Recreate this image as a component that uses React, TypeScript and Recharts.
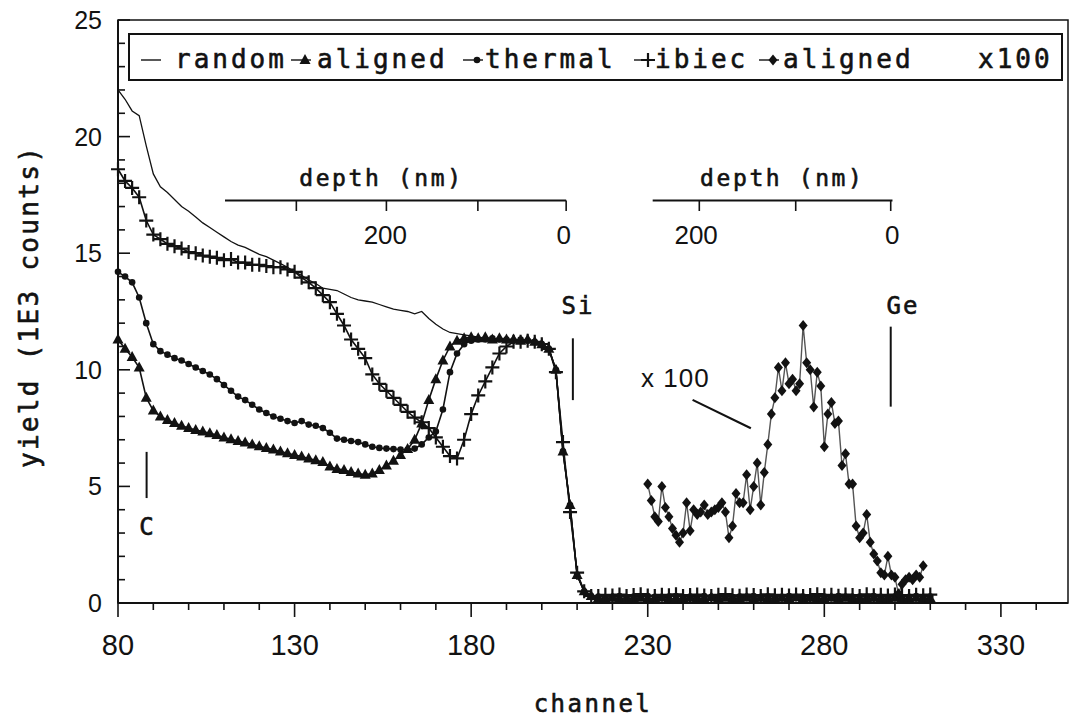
import {
  ComposedChart, Line, XAxis, YAxis, Legend,
  ReferenceLine, ReferenceDot, ReferenceArea,
} from "recharts";

// RBS spectra. Yield in 1E3 counts, x = channel.
const CHANNELS = [
  80, 82, 84, 86, 88, 90, 92, 94, 96, 98,
  100, 102, 104, 106, 108, 110, 112, 114, 116, 118,
  120, 122, 124, 126, 128, 130, 132, 134, 136, 138,
  140, 142, 144, 146, 148, 150, 152, 154, 156, 158,
  160, 162, 164, 166, 168, 170, 172, 174, 176, 178,
  180, 182, 184, 186, 188, 190, 192, 194, 196, 198,
  200, 202, 204, 206, 208, 210, 212, 214, 216, 218,
  220, 222, 224, 226, 228, 230, 232, 234, 236, 238,
  240, 242, 244, 246, 248, 250, 252, 254, 256, 258,
  260, 262, 264, 266, 268, 270, 272, 274, 276, 278,
  280, 282, 284, 286, 288, 290, 292, 294, 296, 298,
  300, 302, 304, 306, 308, 310,
];

const RANDOM = [
  22.0, 21.6, 21.1, 20.9, 19.6, 18.4, 17.85, 17.6, 17.3, 17.0,
  16.8, 16.55, 16.3, 16.1, 15.9, 15.7, 15.5, 15.35, 15.25, 15.1,
  14.95, 14.85, 14.7, 14.55, 14.4, 14.2, 14.05, 13.85, 13.7, 13.5,
  13.45, 13.4, 13.25, 13.1, 13.0, 12.95, 12.9, 12.8, 12.7, 12.6,
  12.55, 12.5, 12.4, 12.5, 12.2, 11.95, 11.75, 11.6, 11.55, 11.5,
  11.45, 11.4, 11.35, 11.35, 11.3, 11.3, 11.3, 11.25, 11.25, 11.2,
  11.1, 10.9, 10.0, 6.5, 4.2, 1.2, 0.5, 0.3, 0.28, 0.3,
  0.3, 0.28, 0.3, 0.3, 0.27, 0.3, 0.29, 0.3, 0.28, 0.3,
  0.3, 0.29, 0.3, 0.28, 0.3, 0.3, 0.27, 0.3, 0.3, 0.29,
  0.3, 0.28, 0.3, 0.3, 0.29, 0.3, 0.28, 0.3, 0.3, 0.3,
  0.29, 0.3, 0.3, 0.28, 0.3, 0.3, 0.29, 0.3, 0.28, 0.3,
  0.3, 0.29, 0.3, 0.3, 0.28, 0.3,
];

const ALIGNED = [
  11.3, 10.9, 10.55, 10.1, 8.8, 8.25, 8.0, 7.85, 7.72, 7.6,
  7.5, 7.42, 7.35, 7.28, 7.2, 7.1, 7.02, 6.95, 6.88, 6.8,
  6.72, 6.65, 6.58, 6.5, 6.42, 6.35, 6.28, 6.2, 6.12, 6.05,
  5.85, 5.75, 5.7, 5.62, 5.55, 5.5, 5.55, 5.7, 5.9, 6.1,
  6.35, 6.6, 7.0, 7.7, 8.7, 9.6, 10.4, 11.0, 11.25, 11.35,
  11.4, 11.35, 11.4, 11.3, 11.35, 11.3, 11.3, 11.25, 11.3, 11.2,
  11.1, 10.9, 10.0, 6.5, 4.2, 1.2, 0.5, 0.3, 0.2, 0.18,
  0.22, 0.2, 0.16, 0.2, 0.22, 0.18, 0.2, 0.24, 0.2, 0.18,
  0.2, 0.22, 0.2, 0.18, 0.25, 0.2, 0.22, 0.18, 0.2, 0.24,
  0.2, 0.22, 0.2, 0.18, 0.22, 0.2, 0.25, 0.2, 0.22, 0.2,
  0.18, 0.24, 0.2, 0.22, 0.2, 0.18, 0.2, 0.22, 0.2, 0.2,
  0.22, 0.2, 0.18, 0.22, 0.2, 0.2,
];

const THERMAL = [
  14.2, 14.0, 13.75, 13.1, 12.0, 11.1, 10.8, 10.65, 10.5, 10.4,
  10.25, 10.1, 9.95, 9.8, 9.6, 9.35, 9.1, 8.85, 8.7, 8.5,
  8.3, 8.15, 8.0, 7.9, 7.8, 7.72, 7.8, 7.65, 7.6, 7.5,
  7.3, 7.05, 7.0, 6.95, 6.9, 6.8, 6.7, 6.65, 6.62, 6.6,
  6.58, 6.57, 6.62, 6.8, 7.1, 7.35, 8.3, 9.9, 10.7, 11.1,
  11.25, 11.3, 11.3, 11.35, 11.3, 11.3, 11.25, 11.3, 11.25, 11.2,
  11.1, 10.9, 10.0, 6.5, 4.2, 1.2, 0.5, 0.3, 0.28, 0.25,
  0.27, 0.3, 0.25, 0.28, 0.26, 0.3, 0.27, 0.25, 0.28, 0.3,
  0.26, 0.28, 0.25, 0.3, 0.27, 0.26, 0.29, 0.25, 0.28, 0.27,
  0.3, 0.26, 0.28, 0.25, 0.27, 0.3, 0.26, 0.28, 0.25, 0.27,
  0.28, 0.26, 0.3, 0.25, 0.27, 0.28, 0.26, 0.3, 0.27, 0.25,
  0.28, 0.26, 0.27, 0.3, 0.26, 0.28,
];

const IBIEC = [
  18.6, 18.1, 17.8, 17.4, 16.4, 15.8, 15.6, 15.4, 15.3, 15.2,
  15.05, 15.0, 14.9, 14.85, 14.8, 14.7, 14.75, 14.6, 14.6, 14.5,
  14.5, 14.45, 14.4, 14.4, 14.3, 14.2, 13.95, 13.75, 13.5, 13.2,
  12.9, 12.4, 11.9, 11.3, 10.9, 10.5, 9.8, 9.4, 9.1, 8.8,
  8.5, 8.2, 7.95, 7.75, 7.5, 7.1, 6.7, 6.3, 6.2, 7.0,
  8.1, 8.9, 9.5, 10.1, 10.7, 11.0, 11.2, 11.2, 11.25, 11.2,
  11.1, 10.9, 9.9, 6.9, 3.9, 1.3, 0.5, 0.3, 0.3, 0.35,
  0.32, 0.36, 0.3, 0.34, 0.38, 0.32, 0.3, 0.35, 0.33, 0.37,
  0.3, 0.34, 0.36, 0.32, 0.3, 0.35, 0.38, 0.33, 0.31, 0.36,
  0.34, 0.3, 0.37, 0.33, 0.35, 0.32, 0.36, 0.3, 0.34, 0.38,
  0.33, 0.35, 0.31, 0.36, 0.34, 0.3, 0.37, 0.33, 0.35, 0.32,
  0.36, 0.34, 0.3, 0.35, 0.33, 0.36,
];

// Ge signal of the aligned spectrum, magnified x100 (one point per channel)
const X100_CH = [
  230, 231, 232, 233, 234, 235, 236, 237, 238, 239,
  240, 241, 242, 243, 244, 245, 246, 247, 248, 249,
  250, 251, 252, 253, 254, 255, 256, 257, 258, 259,
  260, 261, 262, 263, 264, 265, 266, 267, 268, 269,
  270, 271, 272, 273, 274, 275, 276, 277, 278, 279,
  280, 281, 282, 283, 284, 285, 286, 287, 288, 289,
  290, 291, 292, 293, 294, 295, 296, 297, 298, 299,
  300, 301, 302, 303, 304, 305, 306, 307, 308,
];
const X100 = [
  5.1, 4.4, 3.7, 3.5, 5.0, 4.1, 3.7, 3.2, 2.9, 2.6,
  3.0, 4.3, 3.1, 4.0, 3.8, 3.9, 4.2, 3.8, 3.9, 4.0,
  4.1, 4.3, 3.9, 2.8, 3.3, 4.7, 4.3, 4.3, 5.5, 4.0,
  5.0, 6.0, 4.2, 5.6, 6.8, 8.1, 8.8, 10.1, 9.1, 10.3,
  9.4, 9.6, 9.1, 9.4, 11.9, 10.3, 10.0, 8.4, 9.9, 9.3,
  6.7, 8.1, 8.6, 7.7, 7.8, 5.9, 6.4, 5.1, 5.1, 3.3,
  2.8, 3.0, 3.8, 2.6, 2.1, 1.8, 1.3, 1.2, 2.0, 1.2,
  1.1, 0.4, 0.8, 1.0, 1.1, 1.0, 1.2, 1.1, 1.6,
];

const X_TICKS = [80, 90, 100, 110, 120, 130, 140, 150, 160, 170, 180, 190, 200, 210, 220,
  230, 240, 250, 260, 270, 280, 290, 300, 310, 320, 330, 340];
const X_LABELS = [80, 130, 180, 230, 280, 330];
const Y_TICKS = [0, 1, 2, 3, 4, 5, 6, 7, 8, 9, 10, 11, 12, 13, 14, 15, 16, 17, 18, 19, 20, 21, 22, 23, 24, 25];

const LEGEND_NAMES = ["random", "aligned", "thermal", "ibiec", "aligned"];
const LEGEND_TAIL = "x100";

// secondary depth scales (channel positions of the depth marks)
const DEPTH_SCALES = [
  { from: 110.3, to: 206.9, ticks: [130.5, 156.0, 181.9, 206.9], labels: [[155.7, "200"], [206.2, "0"]], title: 154.6 },
  { from: 231.4, to: 299.3, ticks: [244.6, 271.9, 298.8], labels: [[243.7, "200"], [299.2, "0"]], title: 268.1 },
];
const DEPTH_Y = 17.26;

// element edge markers and the x100 pointer (data coordinates)
const MARKERS = [
  { x: 208.8, y1: 11.35, y2: 8.7 },
  { x: 298.8, y1: 11.85, y2: 8.42 },
  { x: 88.1, y1: 6.48, y2: 4.5 },
];
const POINTER = [{ x: 242.7, y: 8.71 }, { x: 259.2, y: 7.49 }];
const NOTES = [
  { x: 205.6, y: 12.75, text: "Si", mono: true },
  { x: 297.6, y: 12.75, text: "Ge", mono: true },
  { x: 228.1, y: 9.65, text: "x 100", mono: false },
  { x: 86.0, y: 3.3, text: "C", mono: true },
];

const TABLE = CHANNELS.map((ch, i) => ({
  ch, random: RANDOM[i], aligned: ALIGNED[i], thermal: THERMAL[i], ibiec: IBIEC[i],
}));
const X100_DATA = X100_CH.map((ch, i) => ({ ch, v: X100[i] }));

const INK = "#121212";
const MONO = "'DejaVu Sans Mono', 'Liberation Mono', monospace";
const SANS = "'Liberation Sans', Arial, Helvetica, sans-serif";
// the scanned typewriter text is a bit heavier than Book but lighter than Bold
const MEDIUM = { stroke: INK, strokeWidth: 0.6 };

function Marker({ kind, cx, cy }: { kind: string; cx: number; cy: number }) {
  if (kind === "tri")
    return <path d={`M${cx},${cy - 6}L${cx + 5.5},${cy + 4}L${cx - 5.5},${cy + 4}Z`} fill={INK} />;
  if (kind === "dot") return <circle cx={cx} cy={cy} r={3.3} fill={INK} />;
  if (kind === "plus")
    return <path d={`M${cx - 7},${cy}H${cx + 7}M${cx},${cy - 7}V${cy + 7}`} stroke={INK} strokeWidth={2.2} fill="none" />;
  if (kind === "dia")
    return <path d={`M${cx},${cy - 5.5}L${cx + 4.5},${cy}L${cx},${cy + 5.5}L${cx - 4.5},${cy}Z`} fill={INK} />;
  return null;
}

const dotOf = (kind: string) => (p: any) => {
  const key = `${kind}-${p.index}`;
  if (p.cx == null || p.cy == null) return <g key={key} />;
  return <g key={key}><Marker kind={kind} cx={p.cx} cy={p.cy} /></g>;
};

function XTick({ x, y, payload }: any) {
  const major = X_LABELS.includes(payload.value);
  return (
    <g>
      <line x1={x} y1={y} x2={x} y2={y + (major ? 14 : 7)} stroke={INK} strokeWidth={1.6} />
      {major && (
        <text x={x} y={y + 52} textAnchor="middle" fontFamily={SANS} fontSize={29} fill={INK}>
          {payload.value}
        </text>
      )}
    </g>
  );
}

function YTick({ x, y, payload }: any) {
  const major = payload.value % 5 === 0;
  return (
    <g>
      <line x1={x} y1={y} x2={x + (major ? 12 : 7)} y2={y} stroke={INK} strokeWidth={1.6} />
      {major && (
        <text x={x - 16} y={y} dy="0.36em" textAnchor="end" fontFamily={SANS} fontSize={25} fill={INK}>
          {payload.value}
        </text>
      )}
    </g>
  );
}

const LEGEND_KINDS = ["line", "tri", "dot", "plus", "dia"];
const LEGEND_ICON_X = [13, 163, 335, 506, 631];
const LEGEND_TEXT_X = [47, 189, 357, 527, 655];

function LegendBox() {
  return (
    <svg width={935} height={48} style={{ display: "block" }}>
      <rect x={1} y={1} width={933} height={46} fill="#fff" stroke={INK} strokeWidth={2} />
      {LEGEND_NAMES.map((name, i) => {
        const ix = LEGEND_ICON_X[i];
        return (
          <g key={i}>
            <line x1={ix} y1={27} x2={ix + 20} y2={27} stroke={INK} strokeWidth={1.4} />
            {LEGEND_KINDS[i] !== "line" && <Marker kind={LEGEND_KINDS[i]} cx={ix + 14} cy={27} />}
            <text x={LEGEND_TEXT_X[i]} y={35} fontFamily={MONO} fontSize={26}
              letterSpacing={3} fill={INK} {...MEDIUM}>
              {name}
            </text>
          </g>
        );
      })}
      <text x={850} y={35} fontFamily={MONO} fontSize={26} letterSpacing={3} fill={INK} {...MEDIUM}>
        {LEGEND_TAIL}
      </text>
    </svg>
  );
}

const textShape = (text: string, font: string, size: number, anchor: string, spacing = 0, heavy = false) =>
  (p: any) => (
    <text x={p.cx} y={p.cy} dy="0.36em" textAnchor={anchor} fontFamily={font} fontSize={size}
      letterSpacing={spacing} fill={INK} {...(heavy ? MEDIUM : {})}>{text}</text>
  );

export default function App() {
  return (
    <div style={{ position: "absolute", left: 0, top: 0, width: 1074, height: 717, background: "#fff" }}>
      <ComposedChart width={1074} height={717} data={TABLE} margin={{ top: 20, right: 6, bottom: 0, left: 0 }}>
        <XAxis dataKey="ch" type="number" domain={[80, 349]} ticks={X_TICKS} interval={0}
          tick={(p: any) => <XTick {...p} />} tickLine={false} tickSize={0} tickMargin={0} height={114}
          axisLine={{ stroke: INK, strokeWidth: 2 }}
          label={({ viewBox }: any) => (
            <text x={viewBox.x + viewBox.width / 2} y={viewBox.y + 109} textAnchor="middle"
              fontFamily={MONO} fontSize={24} letterSpacing={2.5} fill={INK} {...MEDIUM}>channel</text>
          )} />
        <YAxis type="number" domain={[0, 25]} ticks={Y_TICKS} interval={0}
          tick={(p: any) => <YTick {...p} />} tickLine={false} tickSize={0} tickMargin={0} width={118}
          axisLine={{ stroke: INK, strokeWidth: 2 }}
          label={({ viewBox }: any) => (
            <text transform={`translate(${viewBox.x + 29}, ${viewBox.y + viewBox.height / 2 - 5}) rotate(-90)`}
              textAnchor="middle" dominantBaseline="central"
              fontFamily={MONO} fontSize={26} letterSpacing={2.3} fill={INK} {...MEDIUM}>yield (1E3 counts)</text>
          )} />

        <ReferenceArea x1={80} x2={349} y1={0} y2={25} fill="none" stroke={INK} strokeWidth={1.5} />

        {DEPTH_SCALES.map((d, i) => (
          <ReferenceLine key={`dl${i}`} segment={[{ x: d.from, y: DEPTH_Y }, { x: d.to, y: DEPTH_Y }]}
            stroke={INK} strokeWidth={1.8} />
        ))}
        {DEPTH_SCALES.flatMap((d, i) => d.ticks.map((t, j) => (
          <ReferenceLine key={`dt${i}-${j}`} segment={[{ x: t, y: DEPTH_Y }, { x: t, y: DEPTH_Y - 0.45 }]}
            stroke={INK} strokeWidth={1.6} />
        )))}
        {DEPTH_SCALES.flatMap((d, i) => d.labels.map(([x, t], j) => (
          <ReferenceDot key={`dn${i}-${j}`} x={x as number} y={15.8} r={0}
            shape={textShape(t as string, SANS, 26, "middle")} />
        )))}
        {DEPTH_SCALES.map((d, i) => (
          <ReferenceDot key={`dh${i}`} x={d.title} y={18.22} r={0}
            shape={textShape("depth (nm)", MONO, 23, "middle", 2.6, true)} />
        ))}

        {MARKERS.map((m, i) => (
          <ReferenceLine key={`m${i}`} segment={[{ x: m.x, y: m.y1 }, { x: m.x, y: m.y2 }]}
            stroke={INK} strokeWidth={2} />
        ))}
        <ReferenceLine segment={POINTER} stroke={INK} strokeWidth={2.2} />
        {NOTES.map((n, i) => (
          <ReferenceDot key={`n${i}`} x={n.x} y={n.y} r={0}
            shape={textShape(n.text, n.mono ? MONO : SANS, n.mono ? 24 : 26, "start", n.mono ? 2 : 1, n.mono)} />
        ))}

        <Line dataKey="random" name="random" stroke={INK} strokeWidth={1.3} dot={false}
          isAnimationActive={false} type="linear" />
        <Line dataKey="thermal" name="thermal" stroke={INK} strokeWidth={1.6} dot={dotOf("dot")}
          isAnimationActive={false} type="linear" />
        <Line dataKey="aligned" name="aligned" stroke={INK} strokeWidth={1.6} dot={dotOf("tri")}
          isAnimationActive={false} type="linear" />
        <Line dataKey="ibiec" name="ibiec" stroke={INK} strokeWidth={1.6} dot={dotOf("plus")}
          isAnimationActive={false} type="linear" />
        <Line data={X100_DATA} dataKey="v" name="aligned x100" stroke="#555" strokeWidth={1.4}
          dot={dotOf("dia")} isAnimationActive={false} type="linear" />

        <Legend verticalAlign="middle" align="center" layout="horizontal" content={() => <LegendBox />}
          wrapperStyle={{ left: 128, top: 33, width: 935, height: 48, right: "auto", bottom: "auto" }} />
      </ComposedChart>
    </div>
  );
}
